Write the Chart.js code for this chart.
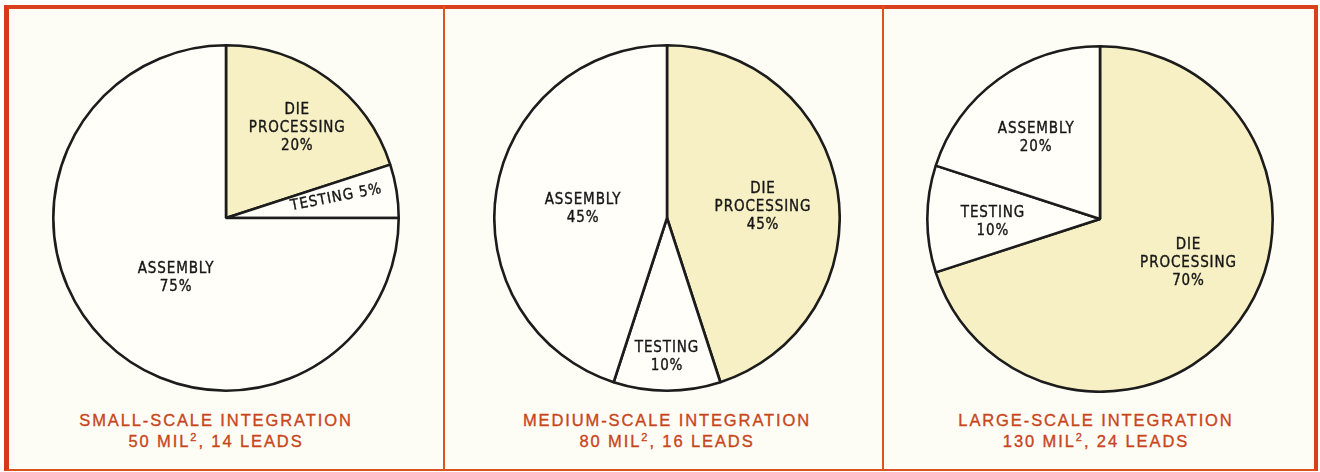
<!DOCTYPE html>
<html>
<head>
<meta charset="utf-8">
<script src="https://cdn.jsdelivr.net/npm/chart.js@4.4.1/dist/chart.umd.min.js"></script>
<style>
  body { margin: 0; width: 1320px; height: 472px; position: relative; overflow: hidden; background: #fff; font-family: "Liberation Sans", Arial, sans-serif; }
  #frame { position: absolute; left: 4px; top: 5px; width: 1314px; height: 466px; box-sizing: border-box;
           border-left: 5px solid #d6381b; border-top: 4px solid #d8411c; border-right: 4px solid #d8401c; border-bottom: 2px solid #d9521f;
           background: #fefdf5; }
  .divider { position: absolute; top: 6px; height: 464px; width: 2px; background: #d9561f; }
  canvas { position: absolute; }
  .cap { position: absolute; width: 400px; text-align: center; color: #c8451b; font-size: 16.5px; letter-spacing: 1.9px;
         line-height: 21px; top: 410px; -webkit-text-stroke: 0.35px #c8451b; }
  .cap sup { font-size: 11px; line-height: 0; vertical-align: 6px; letter-spacing: 0; margin-right: 2px; }
</style>
</head>
<body>
<div id="frame"></div>
<div class="divider" style="left:443px"></div>
<div class="divider" style="left:882px"></div>

<canvas id="pieSmall" width="348" height="348" style="left:52px;top:44px"></canvas>
<canvas id="pieMedium" width="348" height="348" style="left:493px;top:44px"></canvas>
<canvas id="pieLarge" width="348" height="348" style="left:926px;top:45px"></canvas>

<div class="cap" style="left:16px">SMALL-SCALE INTEGRATION<br>50 MIL<sup>2</sup>, 14 LEADS</div>
<div class="cap" style="left:467px">MEDIUM-SCALE INTEGRATION<br>80 MIL<sup>2</sup>, 16 LEADS</div>
<div class="cap" style="left:896px">LARGE-SCALE INTEGRATION<br>130 MIL<sup>2</sup>, 24 LEADS</div>

<script>
// cost shares, clockwise from 12 o'clock
const smallLabels = ['DIE PROCESSING', 'TESTING', 'ASSEMBLY'];
const smallValues = [20, 5, 75];

const mediumLabels = ['DIE PROCESSING', 'TESTING', 'ASSEMBLY'];
const mediumValues = [45, 10, 45];

const largeLabels = ['DIE PROCESSING', 'TESTING', 'ASSEMBLY'];
const largeValues = [70, 10, 20];

const DIE_FILL = '#f6f0c4';
const PLAIN_FILL = '#fffef8';

// where the text sits inside each slice: fraction of radius, angle nudge (deg), rotation (deg), one line or stacked
const smallPlace = { dist: [0.67, 0.65, 0.45], nudge: [2, -2, -5], rotate: [0, -11, 0], inline: [false, true, false] };
const mediumPlace = { dist: [0.56, 0.80, 0.49], nudge: [2, 0, -2], rotate: [0, 0, 0], inline: [false, false, false] };
const largePlace = { dist: [0.57, 0.62, 0.60], nudge: [-10, -1, -2], rotate: [0, 0, 0], inline: [false, false, false] };

const sliceLabels = {
    id: 'sliceLabels',
    afterDatasetsDraw(chart, args, opts) {
        const ctx = chart.ctx;
        const meta = chart.getDatasetMeta(0);
        const values = chart.data.datasets[0].data;
        const names = chart.data.labels;

        ctx.save();
        ctx.fillStyle = '#161616';
        ctx.strokeStyle = '#161616';
        ctx.lineWidth = 0.35;
        ctx.font = '15px "Liberation Sans Narrow", "DejaVu Sans Condensed", "Arial Narrow", sans-serif';
        ctx.letterSpacing = '0.9px';
        ctx.textAlign = 'center';
        ctx.textBaseline = 'middle';

        meta.data.forEach(function (arc, i) {
            const p = arc.getProps(['x', 'y', 'startAngle', 'endAngle', 'outerRadius']);
            const mid = (p.startAngle + p.endAngle) / 2 + opts.nudge[i] * Math.PI / 180;
            const r = p.outerRadius * opts.dist[i];
            const x = p.x + Math.cos(mid) * r;
            const y = p.y + Math.sin(mid) * r;

            let lines;
            if (opts.inline[i]) {
                lines = [names[i] + ' ' + values[i] + '%'];
            } else {
                lines = names[i].split(' ');
                lines.push(values[i] + '%');
            }

            ctx.save();
            ctx.translate(x, y);
            ctx.rotate(opts.rotate[i] * Math.PI / 180);
            const lh = 18;
            const top = -(lines.length - 1) * lh / 2 + 1;
            lines.forEach(function (line, k) {
                ctx.fillText(line, 0, top + k * lh);
                ctx.strokeText(line, 0, top + k * lh);
            });
            ctx.restore();
        });
        ctx.restore();
    }
};

function makePie(id, labels, values, place) {
    const canvas = document.getElementById(id);
    return new Chart(canvas, {
        type: 'pie',
        data: {
            labels: labels,
            datasets: [{
                data: values,
                backgroundColor: labels.map(function (l) { return l === 'DIE PROCESSING' ? DIE_FILL : PLAIN_FILL; }),
                borderColor: '#1c1c1c',
                borderWidth: 2.6
            }]
        },
        options: {
            responsive: false,
            animation: false,
            layout: { padding: 0 },
            plugins: {
                legend: { display: false },
                tooltip: { enabled: false },
                sliceLabels: place
            }
        },
        plugins: [sliceLabels]
    });
}

makePie('pieSmall', smallLabels, smallValues, smallPlace);
makePie('pieMedium', mediumLabels, mediumValues, mediumPlace);
makePie('pieLarge', largeLabels, largeValues, largePlace);
</script>
</body>
</html>
